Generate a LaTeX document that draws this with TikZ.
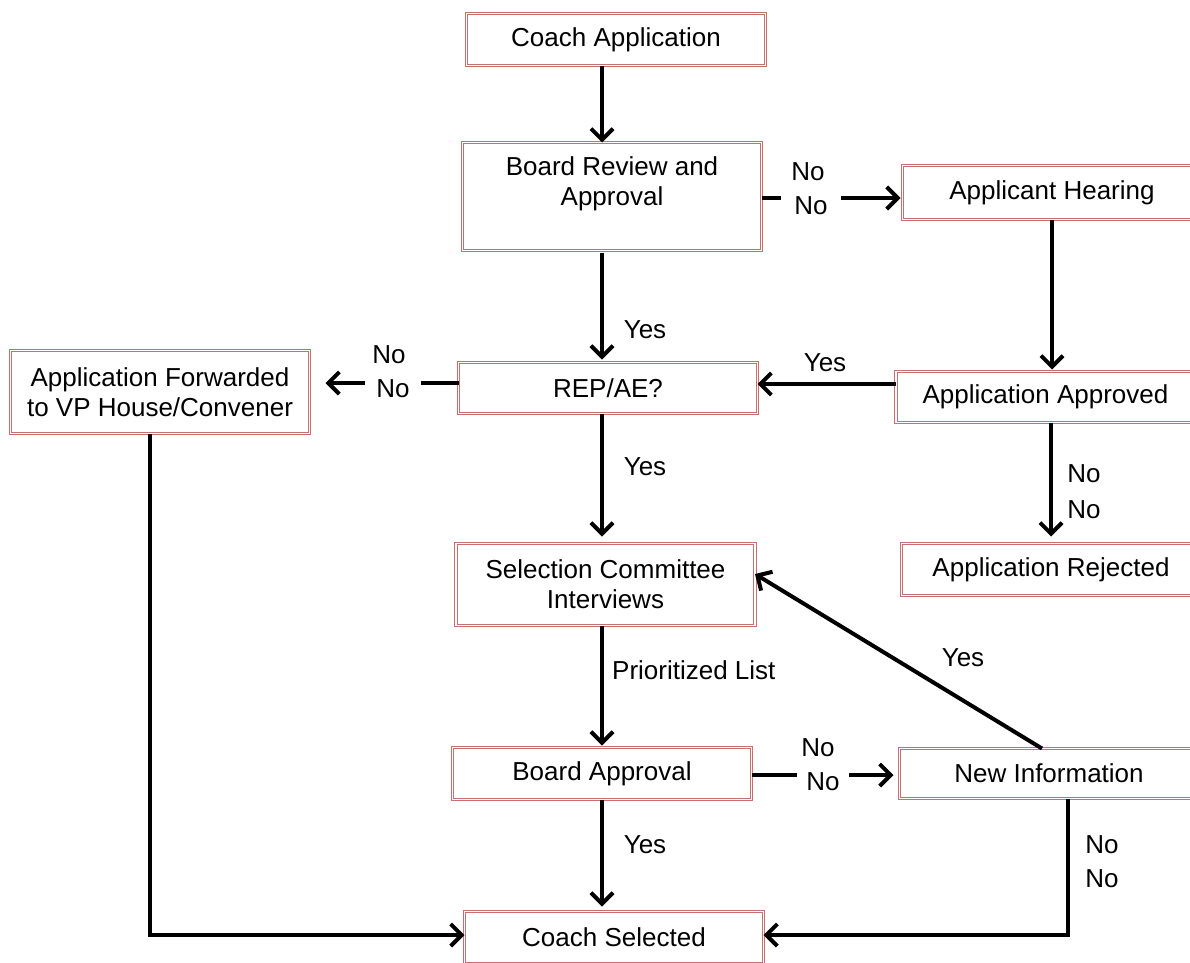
\documentclass[tikz,border=0pt]{standalone}
\usepackage{fontspec}
\setmainfont{Liberation Sans}
\usetikzlibrary{arrows.meta}
\definecolor{boxred}{RGB}{200,112,112}
\tikzset{
  box/.style={draw=boxred, double=white, double distance=1.6pt, line width=1.15pt,
    minimum width=299pt, inner sep=0pt, outer sep=0pt, align=center,
    font=\fontsize{26}{30}\selectfont},
  txt/.style={inner sep=0pt, align=center, font=\fontsize{26}{30}\selectfont},
  lbl/.style={inner sep=0pt, font=\fontsize{26}{30}\selectfont},
  wlbl/.style={inner xsep=12pt, inner ysep=2pt, fill=white, font=\fontsize{26}{30}\selectfont},
  conn/.style={line width=4pt},
  arr/.style={line width=4pt, -{Straight Barb[length=11pt, width=22pt]}}
}
\begin{document}
\begin{tikzpicture}[x=1pt, y=-1pt]
\useasboundingbox (0,0) rectangle (1190,962);
% columns / rows
\coordinate (c602) at (602,0);
\coordinate (c1052) at (1052,0);
\coordinate (c1051) at (1051,0);
\coordinate (c1042) at (1042,0);
\coordinate (c1068) at (1068,0);
\coordinate (c150) at (150,0);
\coordinate (r198) at (0,198);
\coordinate (r384) at (0,384);
\coordinate (r383) at (0,383);
\coordinate (r574) at (0,574);
\coordinate (r775) at (0,775);
\coordinate (r935) at (0,935);
% boxes
\node[box, minimum height=52pt] (ca) at (616,39.5) {Coach Application};
\node[box, minimum height=108pt] (br) at (612,196.5) {};
\node[txt] (brt) at (612,184) {Board Review and\\Approval};
\node[box, minimum height=54pt] (ah) at (1052,192.5) {Applicant Hearing};
\node[box, minimum height=51pt] (rep) at (608,388) {REP/AE?};
\node[box, minimum height=51pt] (aa) at (1045.5,397) {Application Approved};
\node[box, minimum height=83pt] (af) at (160,392) {Application Forwarded\\to VP House/Convener};
\node[box, minimum height=82pt] (sc) at (605.5,584.5) {Selection Committee\\Interviews};
\node[box, minimum height=52pt] (ar) at (1051,569.5) {Application Rejected};
\node[box, minimum height=52pt] (ba) at (602,773.5) {Board Approval};
\node[box, minimum height=50pt] (ni) at (1049,773.5) {New Information};
\node[box, minimum height=52pt] (cs) at (614,937.5) {Coach Selected};
% connectors
\draw[arr] (ca.south -| c602) -- (br.north -| c602);
\draw[arr, shorten >=2pt] (br.east |- r198) -- (ah.west |- r198);
\draw[arr, shorten <=2pt, shorten >=3pt] (br.south -| c602) -- (rep.north -| c602);
\draw[arr, shorten >=2pt] (ah.south -| c1052) -- (aa.north -| c1052);
\draw[arr] (aa.west |- r384) -- (rep.east |- r384);
\draw[arr, shorten >=16pt] (rep.west |- r383) -- (af.east |- r383);
\draw[arr, shorten >=7pt] (rep.south -| c602) -- (sc.north -| c602);
\draw[arr, shorten >=7pt] (aa.south -| c1051) -- (ar.north -| c1051);
\draw[arr, shorten >=2pt] (sc.south -| c602) -- (ba.north -| c602);
\draw[arr] (ni.north -| c1042) -- (sc.east |- r574);
\draw[arr, shorten >=6pt] (ba.east |- r775) -- (ni.west |- r775);
\draw[arr, shorten >=5pt] (ba.south -| c602) -- (cs.north -| c602);
\draw[arr] (af.south -| c150) |- (cs.west |- r935);
\draw[arr] (ni.south -| c1068) |- (cs.east |- r935);
% labels
\node[lbl] (n1a) at (808,172) {No};
\node[wlbl, inner xsep=13pt] (n1b) at (811,205.5) {No};
\node[lbl] (y1) at (645,330) {Yes};
\node[lbl] (y2) at (825,363) {Yes};
\node[lbl] (n2a) at (389,355) {No};
\node[wlbl, inner xsep=11pt] (n2b) at (393,389) {No};
\node[lbl] (y3) at (645,467) {Yes};
\node[lbl] (n3a) at (1084,474) {No};
\node[lbl] (n3b) at (1084,510) {No};
\node[lbl, anchor=west] (pl) at (612,670) {Prioritized List};
\node[lbl] (y4) at (963,658) {Yes};
\node[lbl] (n4a) at (818,748) {No};
\node[wlbl, inner xsep=9pt] (n4b) at (823,782) {No};
\node[lbl] (y5) at (645,845) {Yes};
\node[lbl] (n5a) at (1102,845) {No};
\node[lbl] (n5b) at (1102,879) {No};
\end{tikzpicture}
\end{document}
